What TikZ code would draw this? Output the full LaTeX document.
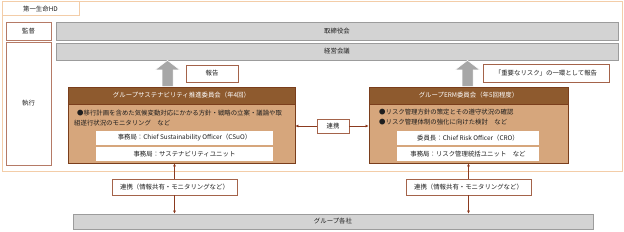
\documentclass[tikz,border=0pt]{standalone}
\usepackage{fontspec}
\setmainfont{Noto Sans CJK JP}
\usetikzlibrary{arrows.meta,shadows}
\definecolor{frameorange}{HTML}{F3CDA8}
\definecolor{sideborder}{HTML}{B57A66}
\definecolor{lblborder}{HTML}{A4634A}
\definecolor{barfill}{HTML}{D3D3D3}
\definecolor{barborder}{HTML}{9C9C9C}
\definecolor{hdrbrown}{HTML}{8E5A2E}
\definecolor{bodytan}{HTML}{D6A67C}
\definecolor{cmtborder}{HTML}{7A3E1C}
\definecolor{arrowgray}{HTML}{A7A7A7}
\definecolor{linkbrown}{HTML}{8B3A1F}
\definecolor{txt}{HTML}{1E1E1E}
\tikzset{
  box/.style={rectangle, inner sep=0pt, font=\fontsize{6.4}{7}\selectfont, text=txt},
  sidebox/.style={box, draw=sideborder, line width=0.9pt, fill=white},
  graybar/.style={box, draw=barborder, line width=0.8pt, fill=barfill,
     drop shadow={shadow xshift=0.8pt, shadow yshift=-0.8pt, fill=black!45, opacity=1}},
  lblbox/.style={box, draw=lblborder, line width=0.8pt, fill=white},
  hdr/.style={box, fill=hdrbrown, draw=cmtborder, line width=0.9pt, text=white},
  cbody/.style={box, fill=bodytan, draw=cmtborder, line width=0.9pt},
  wbox/.style={box, fill=white},
  btxt/.style={box, anchor=west},
  link/.style={draw=linkbrown, line width=0.7pt, -{Latex[length=3pt,width=3pt]}},
  bigarrow/.style={fill=arrowgray, draw=white, line width=0.5pt}
}
\begin{document}
\begin{tikzpicture}[x=1pt,y=-1pt]
\useasboundingbox (0,0) rectangle (624,232);
% outer frame
\node[box, draw=frameorange, line width=1pt, minimum width=620pt, minimum height=170pt] (hd) at (312,87) {};
\node[box, draw=frameorange, line width=1pt, fill=white, minimum width=77pt, minimum height=14pt] (hdtab) at (40.5,9) {第一生命HD};
% side labels
\node[sidebox, minimum width=45pt, minimum height=18pt] (kansa) at (28.5,31) {監督};
\node[sidebox, minimum width=45pt, minimum height=123pt] (shikko) at (28.5,103.5) {執行};
% gray bars
\node[graybar, minimum width=562pt, minimum height=18pt] (board) at (337,31) {取締役会};
\node[graybar, minimum width=562pt, minimum height=17pt] (mgmt) at (337,51.5) {経営会議};
% left committee
\node[cbody, minimum width=227pt, minimum height=59pt] (lbody) at (181.5,133.5) {};
\node[hdr, minimum width=227pt, minimum height=17pt] (lhdr) at (181.5,95.5) {グループサステナビリティ推進委員会（年4回）};
\node[btxt] (lt1) at (77,113) {●移行計画を含めた気候変動対応にかかる方針・戦略の立案・議論や取};
\node[btxt] (lt2) at (74,123.5) {組遂行状況のモニタリング　など};
\node[wbox, minimum width=177pt, minimum height=14pt] (lw1) at (184.5,138) {事務局：Chief Sustainability Officer（CSuO）};
\node[wbox, minimum width=177pt, minimum height=14pt] (lw2) at (184.5,154) {事務局：サステナビリティユニット};
% right committee
\node[cbody, minimum width=199pt, minimum height=59pt] (rbody) at (468.5,133.5) {};
\node[hdr, minimum width=199pt, minimum height=17pt] (rhdr) at (468.5,95.5) {グループERM委員会（年5回程度）};
\node[btxt] (rt1) at (379,112) {●リスク管理方針の策定とその遵守状況の確認};
\node[btxt] (rt2) at (379,122.5) {●リスク管理体制の強化に向けた検討　など};
\node[wbox, minimum width=142pt, minimum height=14pt] (rw1) at (468,138) {委員長：Chief Risk Officer（CRO）};
\node[wbox, minimum width=142pt, minimum height=14pt] (rw2) at (468,154) {事務局：リスク管理統括ユニット　など};
% report labels
\node[lblbox, minimum width=52pt, minimum height=17pt] (lrep) at (212,73.5) {報告};
\node[lblbox, minimum width=126pt, minimum height=18pt] (rrep) at (546,73) {「重要なリスク」の一環として報告};
% big up arrows
\draw[bigarrow] (lhdr.north -| 162,0) -- (162,70) -- (155,70) -- (mgmt.south -| 167.5,0) -- (180,70) -- (173,70) -- (lhdr.north -| 173,0) -- cycle;
\draw[bigarrow] (rhdr.north -| 462,0) -- (462,70) -- (455,70) -- (mgmt.south -| 467.5,0) -- (480,70) -- (473,70) -- (rhdr.north -| 473,0) -- cycle;
% middle link
\node[lblbox, minimum width=32pt, minimum height=14pt] (mlink) at (333,126) {連携};
\draw[link] (mlink.west) -- (mlink.west -| lbody.east);
\draw[link] (mlink.east) -- (mlink.east -| rbody.west);
% bottom links
\node[lblbox, minimum width=125pt, minimum height=16pt] (llink) at (174.5,187) {連携（情報共有・モニタリングなど）};
\node[lblbox, minimum width=125pt, minimum height=16pt] (rlink) at (468.5,187) {連携（情報共有・モニタリングなど）};
\node[graybar, minimum width=520pt, minimum height=15pt] (group) at (333,221.5) {グループ各社};
\draw[link] (llink.north) -- (llink.north |- lbody.south);
\draw[link] (llink.south) -- (llink.south |- group.north);
\draw[link] (rlink.north) -- (rlink.north |- rbody.south);
\draw[link] (rlink.south) -- (rlink.south |- group.north);
\end{tikzpicture}
\end{document}
